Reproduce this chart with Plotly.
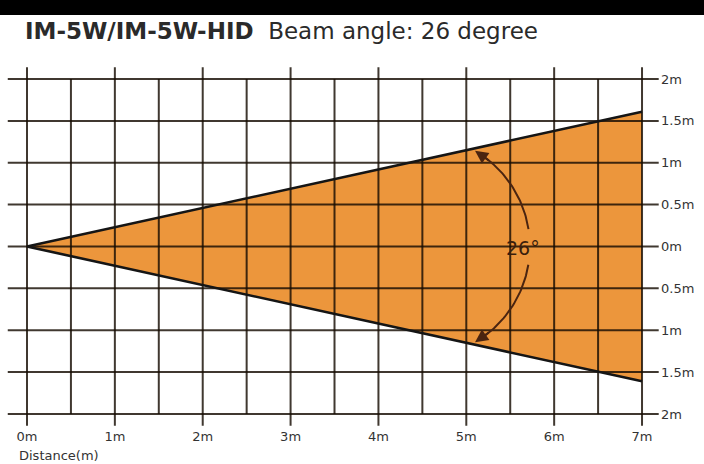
import math
import plotly.graph_objects as go

# ---- data -------------------------------------------------------------
distance_ticks = [0, 1, 2, 3, 4, 5, 6, 7]
distance_labels = ["0m", "1m", "2m", "3m", "4m", "5m", "6m", "7m"]
grid_distance = [0, 0.5, 1, 1.5, 2, 2.5, 3, 3.5, 4, 4.5, 5, 5.5, 6, 6.5, 7]
width_ticks = [2, 1.5, 1, 0.5, 0, -0.5, -1, -1.5, -2]
width_labels = ["2m", "1.5m", "1m", "0.5m", "0m", "0.5m", "1m", "1.5m", "2m"]
beam_distance = [0, 7]
beam_upper = [0, 1.61]
beam_lower = [0, -1.61]
beam_angle_label = "26°"

title_bold = "IM-5W/IM-5W-HID"
title_rest = "Beam angle: 26 degree"
x_title = "Distance(m)"

# ---- styles / layout constants ---------------------------------------
W, H = 704, 464
ML, MR, MT, MB = 6, 44, 60, 37
PX_X = 87.86   # px per metre (x)
PX_Y = 83.75   # px per metre (y)
X0_PX = 27     # pixel of x=0
Y0_PX = 246.5  # pixel of y=0
x_min = -(X0_PX - ML) / PX_X
x_max = x_min + (W - ML - MR) / PX_X
y_max = (Y0_PX - MT) / PX_Y
y_min = y_max - (H - MT - MB) / PX_Y

ORANGE = "#EC963C"
GRID = "rgba(22,12,2,0.82)"
EDGE = "#151515"
ARC = "#4a2410"
FONT = "DejaVu Sans"

fig = go.Figure()

# beam fill
fig.add_trace(go.Scatter(
    x=beam_distance + beam_distance[::-1],
    y=beam_upper + beam_lower[::-1],
    fill="toself", fillcolor=ORANGE, mode="lines",
    line=dict(width=0, color=ORANGE), hoverinfo="skip", showlegend=False))

# grid lines drawn above the fill
gx, gy = [], []
h_left, h_right = x_min + 0.02, 7.19
for yv in width_ticks:
    gx += [h_left, h_right, None]
    gy += [yv, yv, None]
for xv in grid_distance:
    ext = 2.14 if xv in distance_ticks else 2.0
    gx += [xv, xv, None]
    gy += [-ext, ext, None]
fig.add_trace(go.Scatter(x=gx, y=gy, mode="lines",
                         line=dict(color=GRID, width=2),
                         hoverinfo="skip", showlegend=False))

# beam edges
for edge in (beam_upper, beam_lower):
    fig.add_trace(go.Scatter(x=beam_distance, y=edge, mode="lines",
                             line=dict(color=EDGE, width=2.6),
                             hoverinfo="skip", showlegend=False))

# angle arc
arc_cx = 4.46
arc_r = 111.0


def arc_pt(deg):
    t = math.radians(deg)
    return arc_cx + arc_r * math.cos(t) / PX_X, arc_r * math.sin(t) / PX_Y


for a0, a1 in ((9, 55), (-55, -9.5)):
    n = 40
    pts = [arc_pt(a0 + (a1 - a0) * i / n) for i in range(n + 1)]
    fig.add_trace(go.Scatter(x=[p[0] for p in pts], y=[p[1] for p in pts],
                             mode="lines", line=dict(color=ARC, width=2),
                             hoverinfo="skip", showlegend=False))

annotations = []
for tip_deg, tail_deg in ((59.6, 50), (-59.6, -50)):
    tx, ty = arc_pt(tip_deg)
    sx, sy = arc_pt(tail_deg)
    annotations.append(dict(x=tx, y=ty, ax=sx, ay=sy, xref="x", yref="y",
                            axref="x", ayref="y", text="", showarrow=True,
                            arrowhead=2, arrowsize=1.3, arrowwidth=2,
                            arrowcolor=ARC, standoff=0, startstandoff=0))

annotations.append(dict(x=5.65, y=-0.02, xref="x", yref="y",
                        text=beam_angle_label, showarrow=False,
                        font=dict(family=FONT, size=19, color="#3a1e0c")))

annotations.append(dict(x=(17 - ML) / (W - ML - MR), y=-(455 - (H - MB)) / (H - MT - MB),
                        xref="paper", yref="paper", xanchor="left", yanchor="middle",
                        text=x_title, showarrow=False,
                        font=dict(family=FONT, size=13, color="#333333")))

fig.update_layout(
    width=W, height=H,
    margin=dict(l=ML, r=MR, t=MT, b=MB, pad=0),
    paper_bgcolor="white", plot_bgcolor="white",
    showlegend=False, hovermode=False,
    title=dict(
        text="<b>" + title_bold + "</b>\u00a0\u00a0" + title_rest,
        x=25 / W, xref="container", xanchor="left",
        y=1 - 31 / H, yref="container", yanchor="middle",
        font=dict(family=FONT, size=23, color="#2a2a2a")),
    annotations=annotations,
    shapes=[dict(type="rect", xref="paper", yref="paper",
                 x0=-0.1, x1=1.2, y0=1 + (MT - 15) / (H - MT - MB), y1=1.5,
                 fillcolor="black", line=dict(width=0), layer="above")],
    xaxis=dict(range=[x_min, x_max], showgrid=False, zeroline=False,
               showline=False, ticks="", tickvals=distance_ticks,
               ticktext=distance_labels,
               tickfont=dict(family=FONT, size=13, color="#333333")),
    yaxis=dict(range=[y_min, y_max], side="right", showgrid=False,
               zeroline=False, showline=False, ticks="",
               tickvals=width_ticks, ticktext=width_labels,
               tickfont=dict(family=FONT, size=13, color="#333333")),
)

fig.write_html("out.html", config=dict(displayModeBar=False, staticPlot=True),
               post_script="document.body.style.margin='0';document.body.style.overflow='hidden';")
